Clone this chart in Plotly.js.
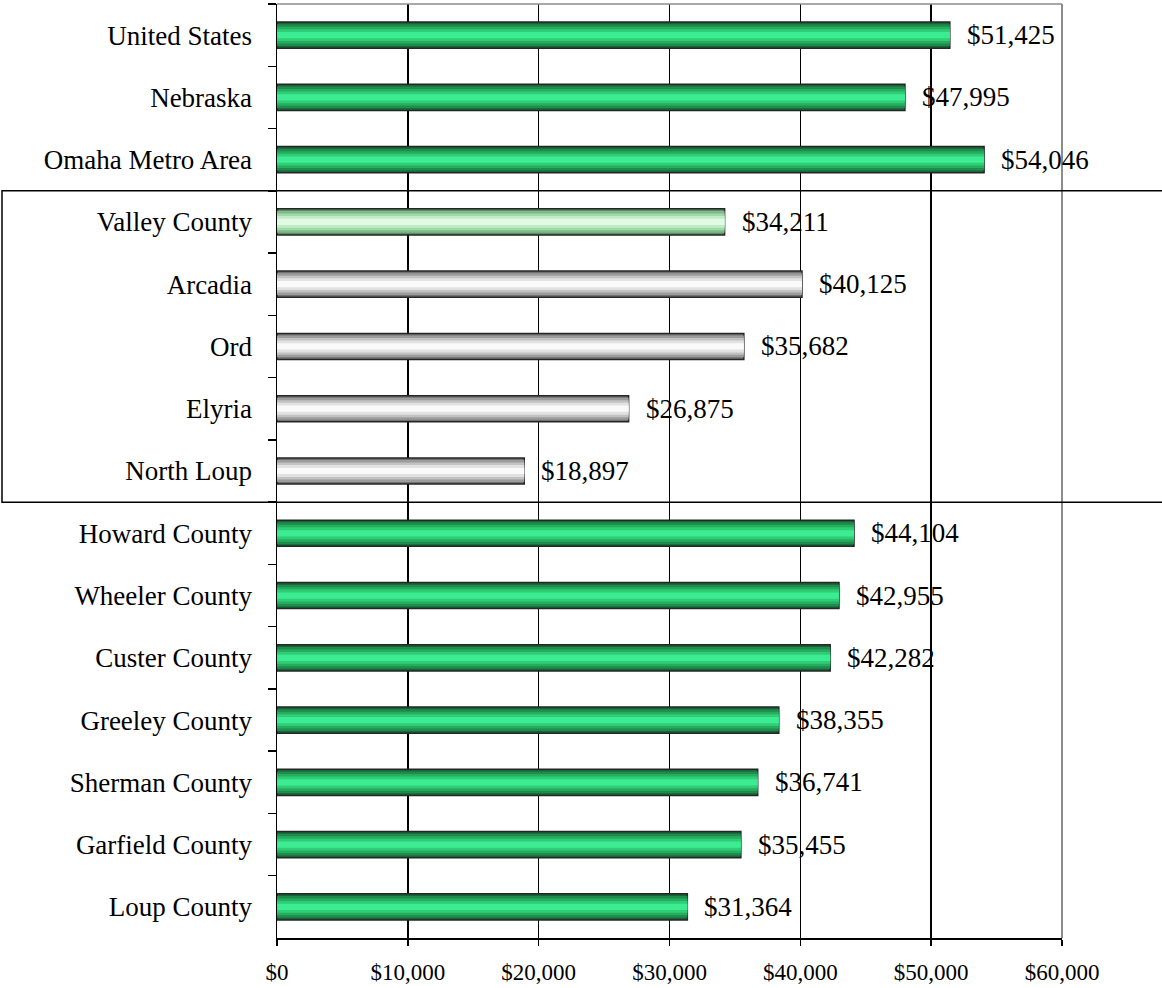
<!DOCTYPE html>
<html>
<head>
<meta charset="utf-8">
<script src="https://cdn.plot.ly/plotly-3.0.1.min.js"></script>
<style>html,body{margin:0;padding:0;background:#fff;}#chart{width:1162px;height:988px;}</style>
</head>
<body>
<div id="chart"></div>
<script>
// ---- data ----
const categories = ["United States","Nebraska","Omaha Metro Area","Valley County","Arcadia","Ord","Elyria","North Loup","Howard County","Wheeler County","Custer County","Greeley County","Sherman County","Garfield County","Loup County"];
const incomes = [51425,47995,54046,34211,40125,35682,26875,18897,44104,42955,42282,38355,36741,35455,31364];
const highlightCounty = ["Valley County"];
const towns = ["Arcadia","Ord","Elyria","North Loup"];
const xTicks = [0,10000,20000,30000,40000,50000,60000];

// ---- styles ----
const palettes = {
  green: ["#176536", "#1e8c4d", "#26ad60", "#2fcd75", "#3cec92"],
  valley: ["#5a8f66", "#7fb98a", "#a2d9ac", "#c2ecc8", "#e0fae3"],
  town: ["#727272", "#9c9c9c", "#c2c2c2", "#e2e2e2", "#fafafa"]
};
function paletteFor(c){
  if (highlightCounty.includes(c)) return palettes.valley;
  if (towns.includes(c)) return palettes.town;
  return palettes.green;
}
const layerWidths = [0.42, 0.35, 0.27, 0.19, 0.10];
const traces = layerWidths.map((w, i) => ({
  type: "bar",
  orientation: "h",
  y: categories,
  x: incomes,
  width: w,
  marker: {
    color: categories.map(c => paletteFor(c)[i]),
    line: i === 0 ? {color: "#262626", width: 1.5} : {width: 0}
  },
  hoverinfo: "skip",
  showlegend: false
}));

const serif = "Liberation Serif, Times New Roman, serif";
const annotations = categories.map((c, i) => ({
  x: incomes[i], y: c, xref: "x", yref: "y",
  text: "$" + incomes[i].toLocaleString("en-US"),
  showarrow: false, xanchor: "left", yanchor: "middle", xshift: 15,
  font: {family: serif, size: 27, color: "#000"}
}));

const L = 277, R = 1062;
const layout = {
  width: 1162, height: 988,
  margin: {l: L, r: 1162 - R, t: 4, b: 50},
  paper_bgcolor: "#fff", plot_bgcolor: "#fff",
  barmode: "overlay",
  font: {family: serif, color: "#000"},
  xaxis: {
    range: [0, 60000], tickvals: xTicks,
    ticktext: xTicks.map(v => "$" + v.toLocaleString("en-US")),
    showgrid: true, gridcolor: "#000", gridwidth: 1.5,
    showline: true, linecolor: "#000", linewidth: 2,
    ticks: "outside", ticklen: 6, tickwidth: 1.5, tickcolor: "#000",
    ticklabelstandoff: 6,
    tickfont: {size: 23, family: serif},
    zeroline: false, fixedrange: true
  },
  yaxis: {
    type: "category", autorange: "reversed",
    showline: true, linecolor: "#000", linewidth: 1.5,
    ticks: "outside", tickson: "boundaries", ticklen: 8, tickwidth: 1.5, tickcolor: "#000",
    ticklabelstandoff: 18,
    tickfont: {size: 27, family: serif},
    showgrid: false, zeroline: false, fixedrange: true
  },
  shapes: [
    {type: "line", xref: "paper", yref: "paper", x0: 0, x1: 1, y0: 1, y1: 1, line: {color: "#8c8c8c", width: 1.5}, layer: "above"},
    {type: "line", xref: "paper", yref: "paper", x0: 1, x1: 1, y0: 0, y1: 1, line: {color: "#8c8c8c", width: 2}, layer: "above"},
    {type: "rect", xref: "paper", yref: "y", x0: (2 - L) / (R - L), x1: (1170 - L) / (R - L), y0: 2.5, y1: 7.5, line: {color: "#000", width: 1.5}, fillcolor: "rgba(0,0,0,0)", layer: "above"}
  ],
  annotations: annotations
};

Plotly.newPlot("chart", traces, layout, {displayModeBar: false, staticPlot: true});
</script>
</body>
</html>
